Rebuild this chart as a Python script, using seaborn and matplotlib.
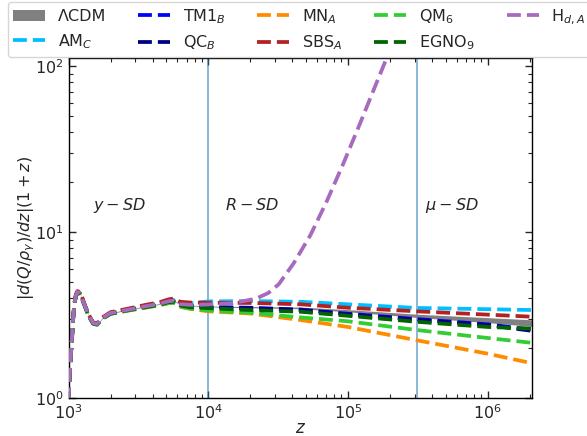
import numpy as np
import pandas as pd
import matplotlib
matplotlib.use("Agg")
import matplotlib.pyplot as plt
import seaborn as sns

# Redshift grid shared by the ΛCDM band and the dashed models
z = [1000, 1015, 1030, 1045, 1060, 1080, 1100, 1130, 1160, 1200, 1250, 1320, 1400,
     1500, 1600, 1750, 2000, 2600, 3500, 4500, 5200, 5700, 6300, 7500,
     1.0e4, 2.0e4, 4.6e4, 1.0e5, 3.1e5, 1.0e6, 2.08e6]

lcdm_lo = [0.93, 1.27, 1.56, 1.93, 2.31, 3.01, 3.61, 4.15, 4.33, 4.28, 3.98, 3.51, 3.10,
           2.81, 2.77, 3.01, 3.23, 3.37, 3.53, 3.67, 3.80, 3.82, 3.65, 3.59,
           3.54, 3.50, 3.45, 3.31, 3.06, 2.85, 2.70]
lcdm_hi = [0.97, 1.31, 1.60, 1.97, 2.35, 3.05, 3.65, 4.19, 4.37, 4.32, 4.02, 3.55, 3.14,
           2.85, 2.81, 3.05, 3.27, 3.41, 3.57, 3.71, 3.84, 3.86, 3.69, 3.63,
           3.58, 3.56, 3.53, 3.41, 3.20, 3.05, 2.96]

am_c = [0.95, 1.29, 1.58, 1.95, 2.33, 3.03, 3.63, 4.17, 4.35, 4.30, 4.00, 3.53, 3.12,
        2.83, 2.79, 3.03, 3.26, 3.41, 3.59, 3.73, 3.86, 3.90, 3.73, 3.73,
        3.82, 3.84, 3.80, 3.67, 3.49, 3.43, 3.39]
tm1_b = [0.95, 1.29, 1.58, 1.95, 2.33, 3.03, 3.63, 4.17, 4.35, 4.30, 4.00, 3.53, 3.12,
         2.83, 2.79, 3.03, 3.24, 3.38, 3.54, 3.68, 3.81, 3.83, 3.65, 3.58,
         3.54, 3.50, 3.41, 3.22, 2.99, 2.78, 2.58]
qc_b = [0.95, 1.29, 1.58, 1.95, 2.33, 3.03, 3.63, 4.17, 4.35, 4.30, 4.00, 3.53, 3.12,
        2.83, 2.79, 3.03, 3.24, 3.38, 3.54, 3.67, 3.80, 3.82, 3.64, 3.56,
        3.52, 3.47, 3.39, 3.19, 2.96, 2.75, 2.54]
mn_a = [0.95, 1.29, 1.58, 1.95, 2.33, 3.03, 3.63, 4.17, 4.35, 4.30, 4.00, 3.53, 3.12,
        2.83, 2.79, 3.02, 3.23, 3.35, 3.50, 3.63, 3.73, 3.75, 3.55, 3.44,
        3.33, 3.23, 2.95, 2.68, 2.23, 1.85, 1.62]
sbs_a = [0.95, 1.30, 1.60, 1.98, 2.36, 3.07, 3.68, 4.23, 4.41, 4.36, 4.06, 3.58, 3.16,
         2.86, 2.82, 3.06, 3.29, 3.44, 3.63, 3.78, 3.93, 3.98, 3.80, 3.76,
         3.75, 3.74, 3.67, 3.50, 3.33, 3.18, 3.09]
qm_6 = [0.95, 1.28, 1.57, 1.93, 2.29, 3.00, 3.59, 4.12, 4.30, 4.25, 3.95, 3.49, 3.08,
        2.80, 2.76, 3.00, 3.21, 3.35, 3.50, 3.63, 3.73, 3.75, 3.55, 3.45,
        3.37, 3.26, 3.06, 2.90, 2.57, 2.30, 2.15]
egno_9 = [0.95, 1.28, 1.57, 1.93, 2.30, 3.01, 3.60, 4.14, 4.32, 4.27, 3.97, 3.51, 3.10,
          2.81, 2.77, 3.01, 3.22, 3.37, 3.52, 3.65, 3.78, 3.80, 3.61, 3.52,
          3.48, 3.39, 3.31, 3.13, 2.88, 2.68, 2.62]

# Heating model that departs from the others after z ~ 1e4
z_hda = [1000, 1015, 1030, 1045, 1060, 1080, 1100, 1130, 1160, 1200, 1250, 1320, 1400,
         1500, 1600, 1750, 2000, 2600, 3500, 4500, 5200, 5700, 6300, 7500,
         1.0e4, 1.5e4, 2.2e4, 2.7e4, 3.2e4, 4.1e4, 5.4e4, 7.1e4, 9.3e4, 1.22e5,
         1.61e5, 2.0e5, 2.4e5]
h_da = [0.95, 1.29, 1.58, 1.95, 2.33, 3.03, 3.63, 4.17, 4.35, 4.30, 4.00, 3.53, 3.12,
        2.83, 2.79, 3.03, 3.25, 3.39, 3.56, 3.70, 3.83, 3.86, 3.68, 3.64,
        3.66, 3.73, 3.97, 4.30, 4.85, 6.50, 9.60, 15.5, 26.0, 45.0,
        80.0, 125.0, 180.0]

labels = ["AM$_C$", "TM1$_B$", "QC$_B$", "MN$_A$", "SBS$_A$", "QM$_6$", "EGNO$_9$"]
series = [am_c, tm1_b, qc_b, mn_a, sbs_a, qm_6, egno_9]
colors = ["deepskyblue", "blue", "navy", "darkorange", "firebrick", "limegreen", "darkgreen"]

# Boundaries between distortion eras and their labels
z_edges = [1.0e4, 3.1e5]
era_text = ["$y-SD$", "$R-SD$", "$\\mu-SD$"]
era_z = [1.5e3, 1.33e4, 3.57e5]
era_y = 14.5

sns.set_style("ticks")
plt.rcParams["font.family"] = ["DejaVu Sans"]
plt.rcParams["font.size"] = 11.5

fig = plt.figure(figsize=(5.87, 4.36), dpi=100)
W, H = 587, 436
x0, x1, y0, y1 = 68.5, 532, 58, 398
ax = fig.add_axes([x0 / W, 1 - y1 / H, (x1 - x0) / W, (y1 - y0) / H])

ax.fill_between(z, lcdm_lo, lcdm_hi, color="gray", lw=0, label="ΛCDM", zorder=2)

for lab, vals, col in zip(labels, series, colors):
    df = pd.DataFrame({"z": z, "v": vals})
    sns.lineplot(data=df, x="z", y="v", ax=ax, color=col, lw=2.7,
                 linestyle="--", label=lab, zorder=3)

df_h = pd.DataFrame({"z": z_hda, "v": h_da})
sns.lineplot(data=df_h, x="z", y="v", ax=ax, color="#a66bbe", lw=2.7,
             linestyle="--", label="H$_{d,A}$", zorder=3)

for ze in z_edges:
    ax.axvline(ze, color="tab:blue", alpha=0.6, lw=1.2, zorder=1)

for t, zt in zip(era_text, era_z):
    ax.text(zt, era_y, t, ha="left", va="center", fontsize=11.5)

ax.set_xscale("log")
ax.set_yscale("log")
ax.set_xlim(1e3, 2.08e6)
ax.set_ylim(1, 112)
ax.set_xlabel("$z$", fontsize=12)
ax.set_ylabel("$|d(Q/\\rho_{\\gamma})/dz|(1+z)$", fontsize=11.5)
ax.xaxis.set_label_coords(0.5, -0.062)
ax.yaxis.set_label_coords(-0.067, 0.5)

ax.tick_params(which="both", direction="in", top=True, right=True, labelsize=11.5)
ax.tick_params(which="major", length=5, width=1)
ax.tick_params(which="minor", length=3, width=0.8)
for s in ax.spines.values():
    s.set_linewidth(1.0)
    s.set_color("black")

handles, labs = ax.get_legend_handles_labels()
ax.legend(handles, labs, ncol=5, loc="lower left",
          bbox_to_anchor=(8 / W, 1 - 57 / H), bbox_transform=fig.transFigure,
          borderaxespad=0, borderpad=0.3, fontsize=11.5, frameon=True)

fig.savefig("out.png", dpi=100)
